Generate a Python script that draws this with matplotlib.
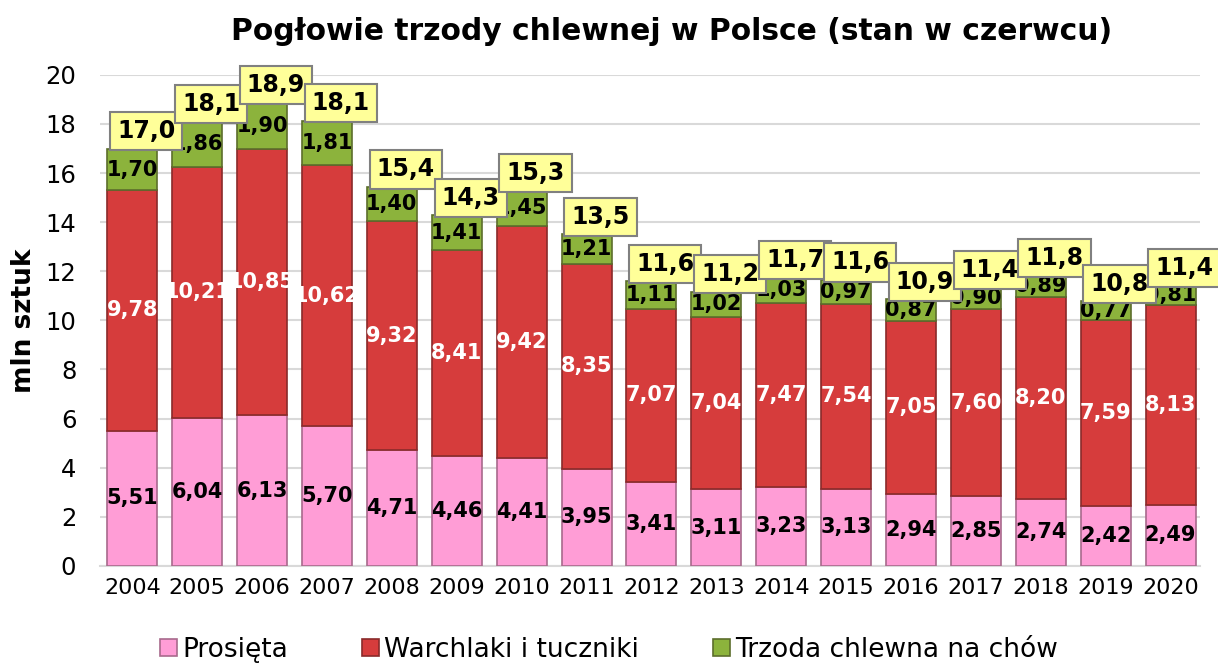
import numpy as np
import matplotlib
matplotlib.use('Agg')
import matplotlib.pyplot as plt

# data (mln szt.)
years = ['2004', '2005', '2006', '2007', '2008', '2009', '2010', '2011', '2012',
         '2013', '2014', '2015', '2016', '2017', '2018', '2019', '2020']
prosieta = [5.51, 6.04, 6.13, 5.70, 4.71, 4.46, 4.41, 3.95, 3.41,
            3.11, 3.23, 3.13, 2.94, 2.85, 2.74, 2.42, 2.49]
warchlaki = [9.78, 10.21, 10.85, 10.62, 9.32, 8.41, 9.42, 8.35, 7.07,
             7.04, 7.47, 7.54, 7.05, 7.60, 8.20, 7.59, 8.13]
chow = [1.70, 1.86, 1.90, 1.81, 1.40, 1.41, 1.45, 1.21, 1.11,
        1.02, 1.03, 0.97, 0.87, 0.90, 0.89, 0.77, 0.81]
totals = [17.0, 18.1, 18.9, 18.1, 15.4, 14.3, 15.3, 13.5, 11.6,
          11.2, 11.7, 11.6, 10.9, 11.4, 11.8, 10.8, 11.4]

def pl(v, d=2):
    return f"{v:.{d}f}".replace('.', ',')

fig = plt.figure(figsize=(12.18, 6.68), dpi=100)
ax = fig.add_axes([0.082, 0.153, 0.903, 0.735])

x = np.arange(len(years))
w = 0.77
p = np.array(prosieta)
r = np.array(warchlaki)
g = np.array(chow)

b1 = ax.bar(x, p, w, color='#FF9DD6', edgecolor='#A86A8C', linewidth=1.2, zorder=3,
            label='Prosięta')
b2 = ax.bar(x, r, w, bottom=p, color='#D63C3C', edgecolor='#8A2A2A', linewidth=1.2,
            zorder=3, label='Warchlaki i tuczniki')
b3 = ax.bar(x, g, w, bottom=p + r, color='#8CB33C', edgecolor='#5C6E2C', linewidth=1.2,
            zorder=3, label='Trzoda chlewna na chów')

# segment labels
for i in x:
    ax.text(i, p[i] / 2, pl(p[i]), ha='center', va='center', fontsize=15,
            fontweight='bold', color='black', zorder=4)
    ax.text(i, p[i] + r[i] / 2, pl(r[i]), ha='center', va='center', fontsize=15,
            fontweight='bold', color='white', zorder=4)
    ax.text(i, p[i] + r[i] + g[i] / 2, pl(g[i]), ha='center', va='center', fontsize=15,
            fontweight='bold', color='black', zorder=4)

# totals in yellow boxes
for i in x:
    top = p[i] + r[i] + g[i]
    ax.annotate(pl(totals[i], 1), xy=(i, top), xytext=(10, 4), textcoords='offset points',
                ha='center', va='bottom', fontsize=17, fontweight='bold', zorder=6,
                bbox=dict(boxstyle='square,pad=0.3', fc='#FFFF99', ec='#808080', lw=1.5))

ax.set_ylim(0, 20)
ax.set_xlim(-0.5, 16.45)
ax.set_yticks(np.arange(0, 21, 2))
ax.set_xticks(x)
ax.set_xticklabels(years, fontsize=16)
ax.tick_params(axis='y', labelsize=17.5, length=0, pad=17)
ax.tick_params(axis='x', length=0, pad=9)
ax.grid(axis='y', color='#D9D9D9', linewidth=1.5, zorder=0)
for s in ['top', 'right', 'left']:
    ax.spines[s].set_visible(False)
ax.spines['bottom'].set_color('#D9D9D9')
ax.spines['bottom'].set_linewidth(1.5)

ax.set_ylabel('mln sztuk', fontsize=19, fontweight='bold', labelpad=6)
fig.suptitle('Pogłowie trzody chlewnej w Polsce (stan w czerwcu)', fontsize=21.4,
             fontweight='bold', x=0.551, y=0.975)

fig.legend(handles=[b1, b2, b3], loc='lower center', ncol=3, frameon=False,
           fontsize=19, bbox_to_anchor=(0.5, -0.028), handlelength=0.65,
           handleheight=0.65, handletextpad=0.2, columnspacing=2.8)

fig.savefig('out.png', dpi=100)
